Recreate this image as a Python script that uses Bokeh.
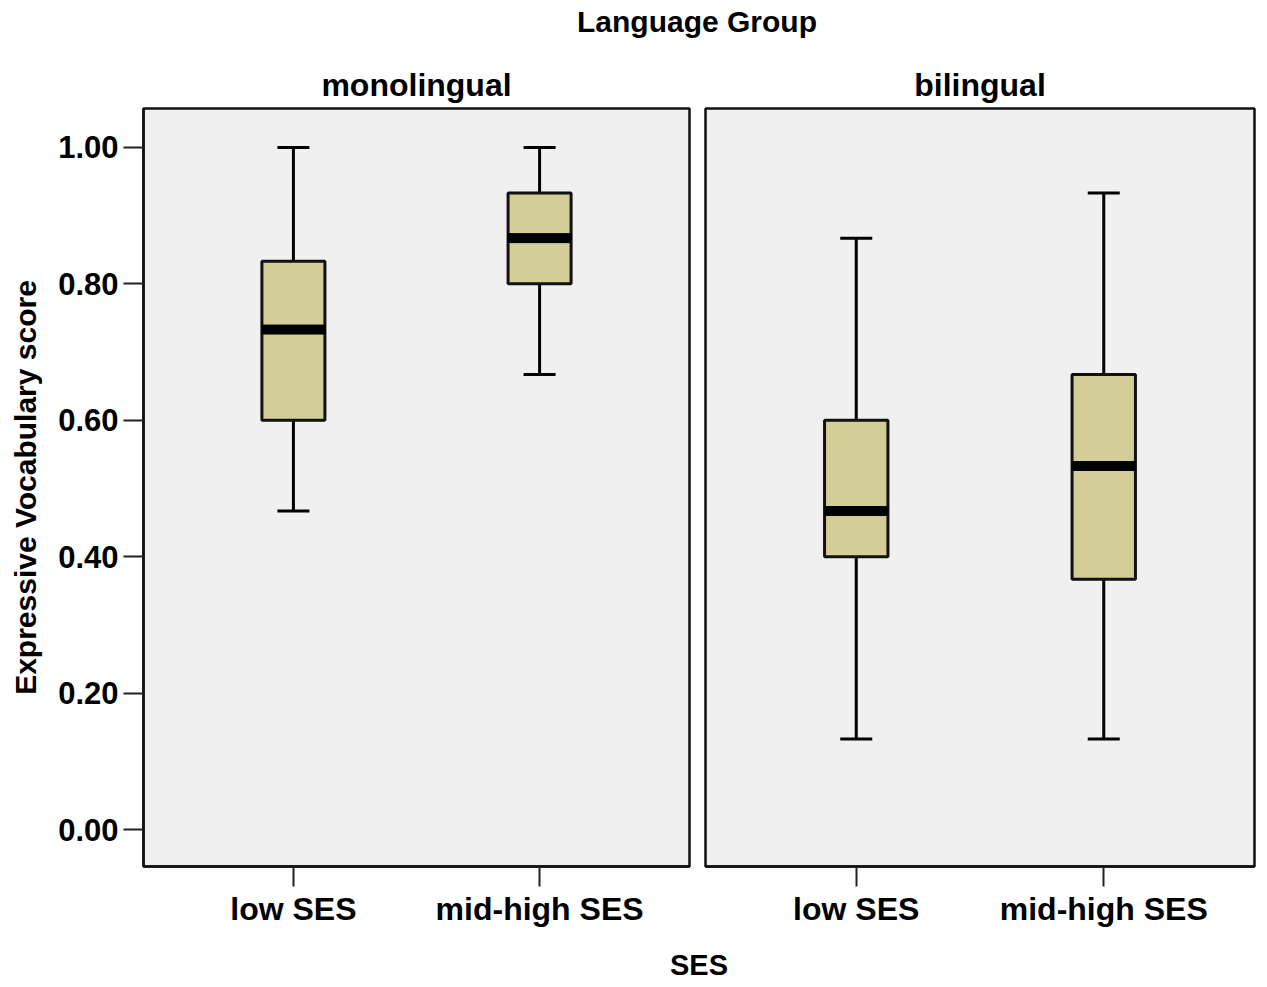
from bokeh.plotting import figure
from bokeh.models import (ColumnDataSource, FactorRange, Range1d, FixedTicker,
                          NumeralTickFormatter, Whisker, TeeHead, Div)
from bokeh.layouts import column, row
from bokeh.embed import file_html
from bokeh.resources import INLINE

# ---- data ----
ses = ["low SES", "mid-high SES"]
groups = ["monolingual", "bilingual"]
mono_lo = [0.467, 0.667]
mono_q1 = [0.600, 0.800]
mono_med = [0.733, 0.867]
mono_q3 = [0.833, 0.933]
mono_hi = [1.000, 1.000]
bi_lo = [0.133, 0.133]
bi_q1 = [0.400, 0.367]
bi_med = [0.467, 0.533]
bi_q3 = [0.600, 0.667]
bi_hi = [0.867, 0.933]
y_ticks = [0.0, 0.2, 0.4, 0.6, 0.8, 1.0]

FONT = "Liberation Sans"
BOX_FILL = "#D3CE97"
BG = "#F0F0F0"


def make_panel(title, lo, q1, med, q3, hi, left_axis, width, border_left, border_right):
    src = ColumnDataSource(dict(ses=ses, lo=lo, q1=q1, med=med, q3=q3, hi=hi))
    p = figure(x_range=FactorRange(factors=ses, range_padding=0.109),
               y_range=Range1d(-0.054, 1.057),
               width=width, height=899, output_backend="svg",
               toolbar_location=None, title=title,
               y_axis_location="left" if left_axis else None,
               min_border_left=border_left, min_border_right=border_right,
               min_border_top=60, min_border_bottom=81)
    p.background_fill_color = BG
    p.border_fill_color = "white"
    p.outline_line_color = "#111111"
    p.outline_line_width = 2.5
    p.grid.visible = False
    p.title.align = "center"
    p.title.text_font = FONT
    p.title.text_font_size = "32px"
    p.title.text_font_style = "bold"
    p.title.text_color = "black"
    p.title.standoff = 12

    p.xaxis.major_tick_out = 20
    p.xaxis.major_tick_in = 0
    p.xaxis.major_tick_line_width = 2
    p.xaxis.major_tick_line_color = "#222222"
    p.xaxis.axis_line_color = "#111111"
    p.xaxis.axis_line_width = 2.5
    p.xaxis.major_label_text_font = FONT
    p.xaxis.major_label_text_font_size = "32px"
    p.xaxis.major_label_text_font_style = "bold"
    p.xaxis.major_label_text_color = "black"
    p.xaxis.major_label_standoff = 4

    if left_axis:
        p.yaxis.ticker = FixedTicker(ticks=y_ticks)
        p.yaxis.formatter = NumeralTickFormatter(format="0.00")
        p.yaxis.major_tick_out = 20
        p.yaxis.major_tick_in = 0
        p.yaxis.minor_tick_line_color = None
        p.yaxis.major_tick_line_width = 2
        p.yaxis.major_tick_line_color = "#222222"
        p.yaxis.axis_line_color = "#111111"
        p.yaxis.axis_line_width = 2.5
        p.yaxis.major_label_text_font = FONT
        p.yaxis.major_label_text_font_size = "31px"
        p.yaxis.major_label_text_font_style = "bold"
        p.yaxis.major_label_text_color = "black"
        p.yaxis.major_label_standoff = 5
        p.yaxis.axis_label = "Expressive Vocabulary score"
        p.yaxis.axis_label_text_font = FONT
        p.yaxis.axis_label_text_font_size = "30px"
        p.yaxis.axis_label_text_font_style = "bold"
        p.yaxis.axis_label_text_color = "black"
        p.yaxis.axis_label_standoff = 13

    upper = Whisker(source=src, base="ses", lower="q3", upper="hi",
                    line_width=3, line_color="black",
                    upper_head=TeeHead(size=32, line_width=3, line_color="black"),
                    lower_head=None)
    lower = Whisker(source=src, base="ses", lower="lo", upper="q1",
                    line_width=3, line_color="black",
                    lower_head=TeeHead(size=32, line_width=3, line_color="black"),
                    upper_head=None)
    p.add_layout(upper)
    p.add_layout(lower)

    p.vbar(x="ses", top="q3", bottom="q1", width=0.256, source=src,
           fill_color=BOX_FILL, line_color="#111111", line_width=3)
    p.rect(x="ses", y="med", width=0.256, height=9, height_units="screen",
           source=src, fill_color="black", line_color="black", line_width=1)
    return p


p1 = make_panel(groups[0], mono_lo, mono_q1, mono_med, mono_q3, mono_hi,
                True, 697, 143, 8)
p2 = make_panel(groups[1], bi_lo, bi_q1, bi_med, bi_q3, bi_hi,
                False, 561, 8, 4)

top = Div(text=('<div style="margin-left:133px;margin-top:-4px;width:1118px;'
                'text-align:center;font-family:\'Liberation Sans\';'
                'font-weight:bold;font-size:30px;color:black;">Language Group</div>'),
          width=1251, height=38)
bottom = Div(text=('<div style="margin-left:137px;margin-top:-7px;width:1114px;'
                   'text-align:center;font-family:\'Liberation Sans\';'
                   'font-weight:bold;font-size:29px;color:black;">SES</div>'),
             width=1251, height=34)

layout = column(top, row(p1, p2), bottom)

with open("out.html", "w") as f:
    f.write(file_html(layout, INLINE))
